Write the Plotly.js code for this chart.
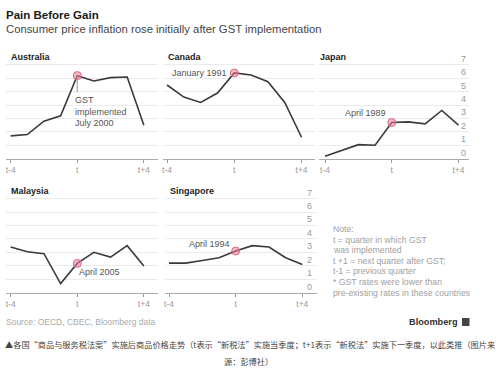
<!DOCTYPE html>
<html>
<head>
<meta charset="utf-8">
<script src="https://cdn.plot.ly/plotly-3.0.1.min.js"></script>
<style>
  html, body { margin: 0; padding: 0; background: #fff; }
  #chart { width: 500px; height: 369px; }
</style>
</head>
<body>
<div id="chart"></div>
<script>
// ---- data ----
const quarters = [-4, -3, -2, -1, 0, 1, 2, 3, 4];
const tickVals = [-4, 0, 4];
const tickText = ["t-4", "t", "t+4"];
const yTicks = [0, 1, 2, 3, 4, 5, 6, 7];

const australia = [1.7, 1.8, 2.8, 3.2, 6.2, 5.8, 6.05, 6.1, 2.5];
const canada    = [5.5, 4.6, 4.2, 4.9, 6.4, 6.25, 5.75, 4.2, 1.6];
const japan     = [0.18, 0.6, 1.05, 1.0, 2.7, 2.75, 2.6, 3.6, 2.5];
const malaysia  = [3.4, 3.05, 2.9, 0.68, 2.18, 3.0, 2.65, 3.5, 1.98];
const singapore = [2.2, 2.2, 2.4, 2.6, 3.1, 3.5, 3.4, 2.6, 2.1];

const countries = ["Australia", "Canada", "Japan", "Malaysia", "Singapore"];
const series = [australia, canada, japan, malaysia, singapore];
const gstLabels = ["GST<br>implemented<br>July 2000", "January 1991", "April 1989", "April 2005", "April 1994"];

const noteLines = [
  "Note:",
  "t = quarter in which GST",
  "was implemented",
  "t +1 = next quarter after GST;",
  "t-1 = previous quarter",
  "* GST rates were lower than",
  "pre-existing rates in these countries"
];

// ---- layout geometry ----
const W = 500, H = 369;
const FONT = "Liberation Sans, Arial, Helvetica, sans-serif";
const px = v => v / W;
const py = v => 1 - v / H;

const panels = [
  { xd: [6, 158],     xr: [-4.28, 4.85], row: 0 },
  { xd: [162.5, 314.5], xr: [-4.27, 4.77], row: 0 },
  { xd: [319, 469],   xr: [-4.36, 4.63], row: 0, labels: true, lshift: -1 },
  { xd: [6, 158],     xr: [-4.28, 4.85], row: 1 },
  { xd: [164.5, 316.5], xr: [-4.27, 4.85], row: 1, labels: true, lshift: -3 }
];
const rows = [
  { axis: 158.7, unit: 13.4 },
  { axis: 292.7, unit: 13.45 }
];
const yRange = [0, 8];

const LINE = "#3a3a3a";
const GRID = "#ebebeb";
const traces = [];
const layout = {
  width: W, height: H,
  margin: { l: 0, r: 0, t: 0, b: 0 },
  paper_bgcolor: "#ffffff",
  plot_bgcolor: "rgba(0,0,0,0)",
  showlegend: false,
  font: { family: FONT, color: "#333" },
  annotations: [],
  shapes: []
};

panels.forEach((p, i) => {
  const n = i + 1;
  const xa = "x" + (n === 1 ? "" : n), ya = "y" + (n === 1 ? "" : n);
  const xkey = "xaxis" + (n === 1 ? "" : n), ykey = "yaxis" + (n === 1 ? "" : n);
  const r = rows[p.row];
  const yBottom = r.axis, yTop = r.axis - r.unit * yRange[1];

  layout[xkey] = {
    domain: [px(p.xd[0]), px(p.xd[1])],
    range: p.xr,
    anchor: ya,
    tickvals: tickVals,
    ticktext: tickText,
    ticks: "outside",
    ticklen: 3,
    tickwidth: 1,
    tickcolor: "#999",
    tickfont: { family: FONT, size: 8.5, color: "#999" },
    showline: true,
    linecolor: "#aaa",
    linewidth: 1,
    showgrid: false,
    zeroline: false,
    fixedrange: true
  };
  layout[ykey] = {
    domain: [1 - yBottom / H, 1 - yTop / H],
    range: yRange,
    anchor: xa,
    tickvals: yTicks,
    ticks: "",
    showticklabels: false,
    showgrid: true,
    gridcolor: GRID,
    gridwidth: 1,
    zeroline: false,
    showline: false,
    fixedrange: true
  };

  // value labels sitting just above each gridline at the right edge
  if (p.labels) {
    yTicks.forEach(v => {
      layout.annotations.push({
        xref: xa + " domain", yref: ya,
        x: 1, y: v, xanchor: "right", yanchor: "middle",
        xshift: p.lshift, yshift: 6,
        text: String(v), showarrow: false,
        font: { family: FONT, size: 9, color: "#999" }
      });
    });
  }

  const vals = series[i];
  traces.push({
    type: "scatter", mode: "lines",
    x: quarters, y: vals, xaxis: xa, yaxis: ya,
    line: { color: LINE, width: 1.6 },
    hoverinfo: "skip"
  });
  const ti = quarters.indexOf(0);
  traces.push({
    type: "scatter", mode: "markers",
    x: [quarters[ti]], y: [vals[ti]], xaxis: xa, yaxis: ya,
    marker: { size: 8, color: "rgba(236,120,150,0.55)", line: { color: "#e0648a", width: 1 } },
    hoverinfo: "skip"
  });

  layout.annotations.push({
    xref: xa + " domain", yref: "paper",
    x: 0, y: py(p.row === 0 ? 57 : 191),
    xanchor: "left", yanchor: "middle",
    xshift: i === 2 ? -1 : 3,
    text: "<b>" + countries[i] + "</b>",
    showarrow: false,
    font: { family: FONT, size: 9, color: "#222" }
  });
});

// GST callouts
const ti = quarters.indexOf(0);
layout.shapes.push({
  type: "line", xref: "x", yref: "y",
  x0: quarters[ti], x1: quarters[ti],
  y0: australia[ti], y1: australia[ti] - 1.25,
  line: { color: "#999", width: 1 }
});
layout.annotations.push({
  xref: "x", yref: "y", x: quarters[ti], y: australia[ti] - 1.3,
  xanchor: "left", yanchor: "top", align: "left", xshift: -4,
  text: gstLabels[0], showarrow: false,
  font: { family: FONT, size: 9, color: "#555" }
});
layout.annotations.push({
  xref: "x2", yref: "y2", x: quarters[ti], y: canada[ti],
  xanchor: "right", yanchor: "middle", xshift: -5,
  text: gstLabels[1], showarrow: false,
  font: { family: FONT, size: 9, color: "#555" }
});
layout.annotations.push({
  xref: "x3", yref: "y3", x: quarters[ti], y: japan[ti],
  xanchor: "right", yanchor: "middle", xshift: -4, yshift: 10,
  text: gstLabels[2], showarrow: false,
  font: { family: FONT, size: 9, color: "#555" }
});
layout.annotations.push({
  xref: "x4", yref: "y4", x: quarters[ti], y: malaysia[ti],
  xanchor: "left", yanchor: "middle", xshift: 0, yshift: -9,
  text: gstLabels[3], showarrow: false,
  font: { family: FONT, size: 9, color: "#555" }
});
layout.annotations.push({
  xref: "x5", yref: "y5", x: quarters[ti], y: singapore[ti],
  xanchor: "right", yanchor: "middle", xshift: -4, yshift: 7,
  text: gstLabels[4], showarrow: false,
  font: { family: FONT, size: 9, color: "#555" }
});

// Titles
layout.annotations.push({
  xref: "paper", yref: "paper", x: px(4), y: py(15),
  xanchor: "left", yanchor: "middle",
  text: "<b>Pain Before Gain</b>", showarrow: false,
  font: { family: FONT, size: 11.5, color: "#1a1a1a" }
});
layout.annotations.push({
  xref: "paper", yref: "paper", x: px(4), y: py(29),
  xanchor: "left", yanchor: "middle",
  text: "Consumer price inflation rose initially after GST implementation", showarrow: false,
  font: { family: FONT, size: 11.3, color: "#444" }
});

// Note
noteLines.forEach((t, k) => {
  layout.annotations.push({
    xref: "paper", yref: "paper", x: px(330.5), y: py(229 + k * 10.6),
    xanchor: "left", yanchor: "middle",
    text: t, showarrow: false,
    font: { family: FONT, size: 8.7, color: "#a0a0a0" }
  });
});

// Source & brand
layout.annotations.push({
  xref: "paper", yref: "paper", x: px(4), y: py(322),
  xanchor: "left", yanchor: "middle",
  text: "Source: OECD, CBEC, Bloomberg data", showarrow: false,
  font: { family: FONT, size: 8.5, color: "#aaa" }
});
layout.annotations.push({
  xref: "paper", yref: "paper", x: px(460), y: py(322),
  xanchor: "right", yanchor: "middle",
  text: "<b>Bloomberg</b>", showarrow: false,
  font: { family: FONT, size: 9.2, color: "#333" }
});
layout.shapes.push({
  type: "rect", xref: "paper", yref: "paper",
  x0: px(462), x1: px(469.5), y0: py(326), y1: py(318),
  fillcolor: "#444", line: { width: 0 }
});

// Chinese caption
const CJK = "Noto Sans CJK SC, sans-serif";
layout.annotations.push({
  xref: "paper", yref: "paper", x: px(3), y: py(344),
  xanchor: "left", yanchor: "middle",
  text: "▲各国“商品与服务税法案”实施后商品价格走势（t表示“新税法”实施当季度；t+1表示“新税法”实施下一季度，以此类推（图片来",
  showarrow: false,
  font: { family: CJK, size: 8.2, color: "#444" }
});
layout.annotations.push({
  xref: "paper", yref: "paper", x: px(248), y: py(361),
  xanchor: "center", yanchor: "middle",
  text: "源：彭博社）", showarrow: false,
  font: { family: CJK, size: 8.2, color: "#444" }
});

Plotly.newPlot("chart", traces, layout, { staticPlot: true, displayModeBar: false });
</script>
</body>
</html>
